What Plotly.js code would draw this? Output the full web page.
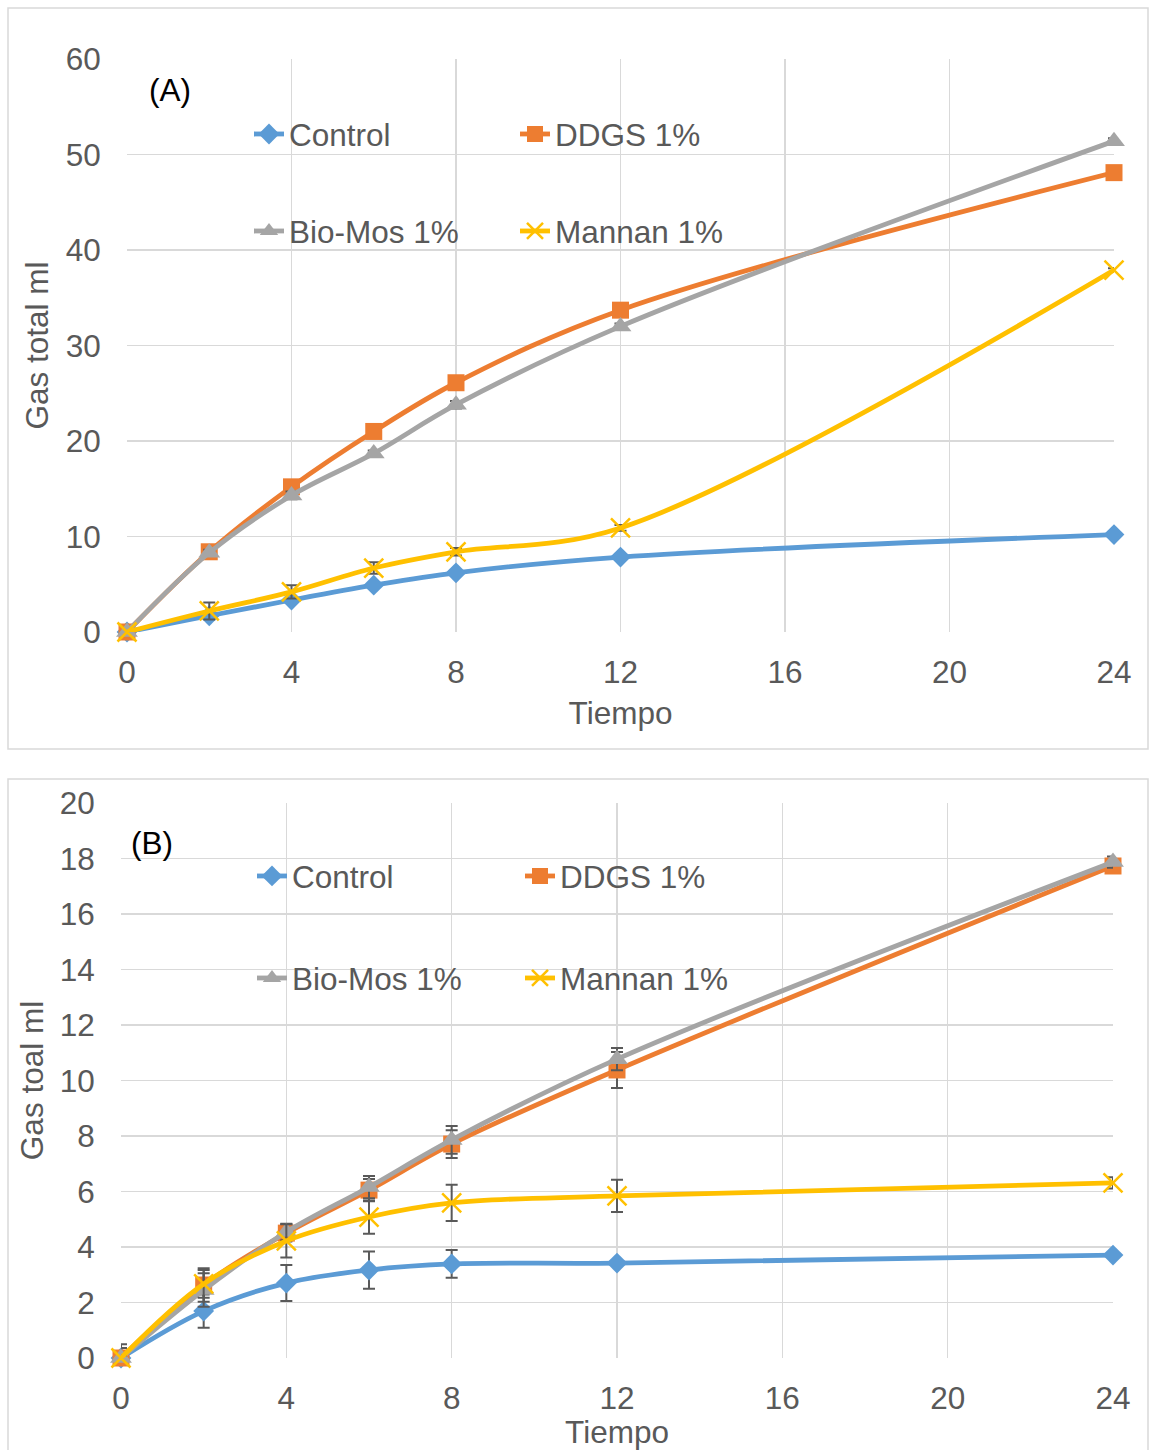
<!DOCTYPE html>
<html>
<head>
<meta charset="utf-8">
<script src="https://cdn.plot.ly/plotly-3.0.1.min.js"></script>
<style>
  html, body { margin: 0; padding: 0; background: #ffffff; }
  #chart { width: 1149px; height: 1450px; }
</style>
</head>
<body>
<div id="chart"></div>
<script>
// ---------- DATA ----------
const tiempo = [0, 2, 4, 6, 8, 12, 24];
const seriesNames = ["Control", "DDGS 1%", "Bio-Mos 1%", "Mannan 1%"];
const xTicks = [0, 4, 8, 12, 16, 20, 24];

// Panel (A): total gas, ml
const controlA = [0, 1.7, 3.35, 4.9, 6.2, 7.85, 10.2];
const ddgsA    = [0, 8.4, 15.2, 21.0, 26.1, 33.7, 48.1];
const biomosA  = [0, 8.3, 14.3, 18.7, 23.8, 32.0, 51.4];
const mannanA  = [0, 2.2, 4.2, 6.7, 8.4, 10.9, 37.9];
const controlAErr = [0, 0.2, 0.2, 0.2, 0.2, 0.2, 0.2];
const ddgsAErr    = [0, 0.3, 0.3, 0.3, 0.3, 0.3, 0.3];
const biomosAErr  = [0, 0.3, 0.4, 0.3, 0.4, 0.3, 0.3];
const mannanAErr  = [0, 0.9, 0.7, 0.6, 0.4, 0.3, 0.2];

// Panel (B): gas, ml
const controlB = [0, 1.69, 2.7, 3.17, 3.39, 3.42, 3.71];
const ddgsB    = [0, 2.63, 4.5, 6.05, 7.71, 10.38, 17.73];
const biomosB  = [0, 2.45, 4.54, 6.16, 7.86, 10.77, 17.87];
const mannanB  = [0, 2.67, 4.22, 5.08, 5.59, 5.84, 6.31];
const controlBErr = [0.1, 0.6, 0.65, 0.67, 0.5, 0.1, 0.1];
const ddgsBErr    = [0.5, 0.6, 0.3, 0.4, 0.5, 0.65, 0.2];
const biomosBErr  = [0.36, 0.6, 0.3, 0.4, 0.5, 0.4, 0.2];
const mannanBErr  = [0.1, 0.5, 0.6, 0.6, 0.65, 0.58, 0.2];

// ---------- STYLE ----------
const W = 1149, H = 1450;
const px = v => v / W;
const py = v => 1 - v / H;
const FONT = "Liberation Sans, Arial, sans-serif";
const FS = 31.5;
const TXT = "#595959";
const GRID = "#d9d9d9";
const colors = ["#5B9BD5", "#ED7D31", "#A5A5A5", "#FFC000"];
const markers = [
  {symbol: "diamond", size: 16},
  {symbol: "square", size: 17},
  {symbol: "triangle-up", size: 19},
  {symbol: "x-thin", size: 19}
];

function mkTrace(i, x, y, err, xa, ya, legendId) {
  const m = Object.assign({color: colors[i]}, markers[i]);
  if (markers[i].symbol === "x-thin") {
    m.line = {color: colors[i], width: 2.5};
  }
  return {
    type: "scatter", mode: "lines+markers",
    name: seriesNames[i], x: x, y: y,
    xaxis: xa, yaxis: ya, legend: legendId,
    line: {color: colors[i], width: 4.8, shape: "spline", smoothing: 1},
    marker: m,
    cliponaxis: false,
    error_y: {type: "data", array: err, visible: true, color: "#595959", thickness: 2, width: 6}
  };
}

const traces = [
  mkTrace(0, tiempo, controlA, controlAErr, "x", "y", "legend"),
  mkTrace(1, tiempo, ddgsA, ddgsAErr, "x", "y", "legend2"),
  mkTrace(2, tiempo, biomosA, biomosAErr, "x", "y", "legend3"),
  mkTrace(3, tiempo, mannanA, mannanAErr, "x", "y", "legend4"),
  mkTrace(0, tiempo, controlB, controlBErr, "x2", "y2", "legend5"),
  mkTrace(1, tiempo, ddgsB, ddgsBErr, "x2", "y2", "legend6"),
  mkTrace(2, tiempo, biomosB, biomosBErr, "x2", "y2", "legend7"),
  mkTrace(3, tiempo, mannanB, mannanBErr, "x2", "y2", "legend8")
];

function xAxis(domain, anchor) {
  return {
    domain: domain, anchor: anchor, range: [0, 24],
    tickmode: "array", tickvals: xTicks, ticktext: xTicks.map(String),
    showgrid: true, gridcolor: GRID, gridwidth: 1.5,
    zeroline: false, showline: false,
    ticks: "outside", ticklen: 12, tickcolor: "rgba(0,0,0,0)",
    tickfont: {family: FONT, size: FS, color: TXT},
    title: {text: "Tiempo", font: {family: FONT, size: FS, color: TXT}, standoff: 13}
  };
}
function yAxis(domain, anchor, range, dtick, title, standoff) {
  return {
    domain: domain, anchor: anchor, range: range, dtick: dtick, tick0: 0,
    showgrid: true, gridcolor: GRID, gridwidth: 1.5,
    zeroline: false, showline: false,
    ticks: "outside", ticklen: 19, tickcolor: "rgba(0,0,0,0)",
    tickfont: {family: FONT, size: FS, color: TXT},
    title: {text: title, font: {family: FONT, size: FS, color: TXT}, standoff: standoff}
  };
}

function leg(textX, rowY) {
  return {
    x: px(textX - 41), y: py(rowY), xanchor: "left", yanchor: "middle",
    xref: "paper", yref: "paper",
    bgcolor: "rgba(0,0,0,0)", borderwidth: 0,
    font: {family: FONT, size: FS, color: TXT}
  };
}

const layout = {
  width: W, height: H,
  margin: {l: 0, r: 0, t: 0, b: 0},
  paper_bgcolor: "#ffffff", plot_bgcolor: "#ffffff",
  showlegend: true,
  xaxis: xAxis([px(127), px(1114)], "y"),
  yaxis: yAxis([py(632), py(59)], "x", [0, 60], 10, "Gas total ml", 7),
  xaxis2: xAxis([px(121), px(1113)], "y2"),
  yaxis2: yAxis([py(1358), py(803)], "x2", [0, 20], 2, "Gas toal ml", 6),
  legend: leg(290, 134),
  legend2: leg(556, 134),
  legend3: leg(290, 231),
  legend4: leg(556, 231),
  legend5: leg(293, 876),
  legend6: leg(561, 876),
  legend7: leg(293, 978),
  legend8: leg(561, 978),
  annotations: [
    {text: "(A)", xref: "paper", yref: "paper", x: px(147), y: py(90), xanchor: "left", yanchor: "middle",
     showarrow: false, font: {family: FONT, size: FS, color: "#000000"}},
    {text: "(B)", xref: "paper", yref: "paper", x: px(129), y: py(843), xanchor: "left", yanchor: "middle",
     showarrow: false, font: {family: FONT, size: FS, color: "#000000"}}
  ],
  shapes: [
    {type: "rect", xref: "paper", yref: "paper", x0: px(8), x1: px(1148), y0: py(749), y1: py(8),
     line: {color: GRID, width: 1.5}, fillcolor: "rgba(0,0,0,0)", layer: "below"},
    {type: "rect", xref: "paper", yref: "paper", x0: px(8), x1: px(1148), y0: py(1470), y1: py(779),
     line: {color: GRID, width: 1.5}, fillcolor: "rgba(0,0,0,0)", layer: "below"}
  ]
};

Plotly.newPlot("chart", traces, layout, {displayModeBar: false, staticPlot: true});
</script>
</body>
</html>
